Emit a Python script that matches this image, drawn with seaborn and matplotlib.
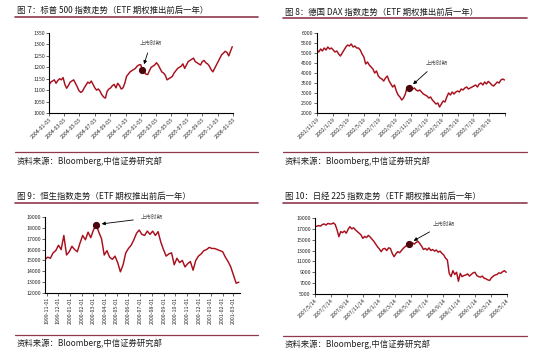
import pandas as pd
import seaborn as sns
import matplotlib.pyplot as plt
from matplotlib.lines import Line2D

sns.set_theme(style="ticks")
plt.rcParams['font.family'] = ['Noto Sans CJK SC', 'DejaVu Sans']

# ---- data (weekly closes) ----
sp_start = "2004-01-03"
sp_values = [1122, 1135, 1140, 1145, 1130, 1142, 1150, 1145, 1155, 1125, 1108, 1120, 1135,
             1140, 1145, 1130, 1115, 1098, 1090, 1095, 1110, 1122, 1135, 1130, 1140,
             1125, 1110, 1100, 1105, 1095, 1080, 1070, 1065, 1095, 1105, 1110, 1120, 1125, 1110,
             1130, 1120, 1105, 1110, 1130, 1160, 1170, 1180, 1185, 1190, 1195, 1205, 1210, 1212,
             1190, 1180, 1170, 1168, 1185, 1200, 1205, 1210, 1220, 1210, 1195, 1180,
             1175, 1165, 1145, 1150, 1155, 1160, 1175, 1185, 1195, 1200, 1205, 1215, 1195,
             1210, 1225, 1230, 1235, 1240, 1225, 1220, 1215, 1210, 1225, 1230, 1220, 1215,
             1205, 1190, 1180, 1195, 1210, 1225, 1240, 1255, 1262, 1270, 1265, 1250, 1270, 1290]
sp_mark = 53
sp_ticks = ["2004-01-03", "2004-03-03", "2004-05-03", "2004-07-03", "2004-09-03", "2004-11-03",
            "2005-01-03", "2005-03-03", "2005-05-03", "2005-07-03", "2005-09-03", "2005-11-03",
            "2006-01-03"]

dax_start = "2001-11-19"
dax_values = [5150, 5050, 5200, 5100, 5250, 5150, 5300, 5200, 5250,
              5150, 5050, 5100, 4950, 4850, 5000, 5150, 5300,
              5400, 5350, 5450, 5300, 5350, 5250, 5250, 5150,
              4950, 4800, 4450, 4550, 4400, 4300, 4200, 4000,
              4100, 3850, 3750, 3700, 3600, 3750, 3850, 3600, 3450,
              3300, 3400, 3100, 2900, 2800, 2650, 2750, 2950,
              3300, 3250, 3350, 3200, 3250, 3150, 3100, 3150,
              3050, 2950, 2900, 2850, 2750, 2800, 2650, 2550, 2450, 2500,
              2300, 2450, 2600, 2550, 2800, 3000, 2900, 3050,
              2950, 3050, 3100, 3050, 3200, 3150, 3250, 3300, 3200,
              3250, 3300, 3350, 3400, 3300, 3450, 3500, 3400, 3550, 3450,
              3580, 3500, 3400, 3350, 3450, 3550, 3500, 3650, 3700, 3650]
dax_mark = 51
dax_ticks = ["2001/11/19", "2002/1/19", "2002/3/19", "2002/5/19", "2002/7/19", "2002/9/19",
             "2002/11/19", "2003/1/19", "2003/3/19", "2003/5/19", "2003/7/19", "2003/9/19",
             "2003/11/19"]

hs_start = "1999-10-28"
hs_values = [15100, 15300, 15200, 15700, 15900, 16400,
             16000, 17300, 15500, 15800, 16300, 16000, 15800,
             16600, 17300, 16900, 17600, 17100, 17800, 18300,
             17600, 17000, 15500, 15900, 15300, 15100, 15400, 14800,
             13950, 14600, 15700, 16100, 16400, 16900, 17500,
             17800, 17400, 17300, 17700, 17400, 17700, 17300,
             17650, 16700, 16000, 15400, 15600, 15700, 14600,
             15200, 14800, 15000, 14400, 14700, 14900, 14100, 15000,
             15400, 15600, 15900, 16000, 16200, 16100, 16100, 16000,
             15900, 15800, 15300, 14900, 14400, 13650, 12900, 13000]
hs_mark = 19
hs_ticks = ["1999-11-01", "1999-12-01", "2000-01-01", "2000-02-01", "2000-03-01", "2000-04-01",
            "2000-05-01", "2000-06-01", "2000-07-01", "2000-08-01", "2000-09-01", "2000-10-01",
            "2000-11-01", "2000-12-01", "2001-01-01", "2001-02-01", "2001-03-01"]

nk_start = "2007-05-14"
nk_values = [17400, 17500, 17600, 17500, 17800, 17900, 17700, 18000, 17900, 17900,
             18100, 17800, 16800, 15560, 16500, 16300, 16600, 16200, 16900, 17400,
             17000, 17200, 16800, 16500, 16200, 15900, 15250, 15600, 15400, 15800,
             15500, 15100, 14700, 14200, 13700, 13300, 12800, 13300, 13400, 13000,
             13500, 13400, 12500, 11870, 12400, 12800, 12600, 13000, 13400, 13700,
             14000, 14300, 14100, 14400, 14200, 14500, 14700, 14300, 13800, 13200,
             13400, 13100, 13500, 13000, 13200, 12900, 13100, 12700, 12900, 12500,
             12200, 11600, 11260, 8800, 8200, 9300, 8600, 9000, 7350, 8800,
             8200, 8400, 8500, 8700, 8300, 8600, 8900, 9000, 8400, 8200,
             8100, 8300, 7900, 7800, 7600, 7500, 8000, 8300, 8500, 8600,
             8900, 8800, 9100, 9300, 9000]
nk_mark = 51
nk_ticks = ["2007/5/14", "2007/7/14", "2007/9/14", "2007/11/14", "2008/1/14", "2008/3/14",
            "2008/5/14", "2008/7/14", "2008/9/14", "2008/11/14", "2009/1/14", "2009/3/14",
            "2009/5/14"]

titles = ["图 7：标普 500 指数走势（ETF 期权推出前后一年）",
          "图 8：德国 DAX 指数走势（ETF 期权推出前后一年）",
          "图 9：恒生指数走势（ETF 期权推出前后一年）",
          "图 10：日经 225 指数走势（ETF 期权推出前后一年）"]
source = "资料来源：Bloomberg,中信证券研究部"
note = "上市时期"

LINE = "#a80f1c"
MARK = "#4a070e"
RULE = "#8e3a4c"
W, H = 550, 360

fig = plt.figure(figsize=(5.5, 3.6), dpi=100)
fig.patch.set_facecolor("white")


def fx(px):
    return px / W


def fy(py):
    return 1 - py / H


def hline(x0, x1, y, lw):
    fig.add_artist(Line2D([fx(x0), fx(x1)], [fy(y), fy(y)], transform=fig.transFigure,
                          color=RULE, lw=lw))


def panel(box, start, values, mark, ticks, tick_labels, rot, ylim, ystep, xmax, text_off):
    ax = fig.add_axes([fx(box[0]), fy(box[3]), fx(box[2] - box[0]), (box[3] - box[1]) / H])
    df = pd.DataFrame({"date": pd.date_range(start, periods=len(values), freq="7D"),
                       "value": values})
    sns.lineplot(data=df, x="date", y="value", ax=ax, color=LINE, linewidth=1.05)
    mx, my = df["date"][mark], df["value"][mark]
    ax.plot(mx, my, "o", color=MARK, ms=4.2, zorder=5)
    ax.annotate(note, xy=(mx, my), xytext=text_off, textcoords="offset points",
                fontsize=4, color="#555555", ha="center", va="center",
                arrowprops=dict(arrowstyle="-|>", color="black", lw=0.6,
                                mutation_scale=5, shrinkA=3, shrinkB=4))
    ax.set_xlim(pd.Timestamp(start), pd.Timestamp(xmax))
    ax.set_ylim(*ylim)
    ax.set_yticks(range(ylim[0], ylim[1] + 1, ystep))
    ax.set_xticks(pd.to_datetime(ticks))
    if rot == 90:
        ax.set_xticklabels(tick_labels, rotation=90, ha="center", va="top")
    else:
        ax.set_xticklabels(tick_labels, rotation=45, ha="right", va="top",
                           rotation_mode="anchor")
    ax.set_xlabel("")
    ax.set_ylabel("")
    ax.tick_params(labelsize=3.8, length=2, width=0.5, pad=1, direction="out")
    for s in ["top", "right"]:
        ax.spines[s].set_visible(False)
    for s in ["left", "bottom"]:
        ax.spines[s].set_linewidth(0.8)
        ax.spines[s].set_color("black")
    ax.set_facecolor("white")
    return ax


# top-left: S&P 500
panel((49, 33, 233, 113), sp_start, sp_values, sp_mark, sp_ticks, sp_ticks, 45,
      (1000, 1350), 50, "2006-01-03", (6, 19))
# top-right: DAX
panel((317, 33, 505, 113), dax_start, dax_values, dax_mark, dax_ticks,
      dax_ticks[:-1] + [""], 45, (2000, 6000), 500, "2003-11-19", (20, 18))
# bottom-left: Hang Seng
panel((45, 217, 240, 293), hs_start, hs_values, hs_mark, hs_ticks, hs_ticks, 90,
      (12000, 19000), 1000, "2001-03-18", (40, 5))
# bottom-right: Nikkei 225
panel((315, 218, 507, 294), nk_start, nk_values, nk_mark, nk_ticks, nk_ticks, 45,
      (5000, 19000), 2000, "2009-05-14", (25, 14))

# titles, rules and source notes
for (x, y, x0, x1, yl), t in zip([(17, 10, 15, 258, 17), (285, 12, 283, 527, 18),
                                  (17, 196, 15, 258, 203), (285, 196, 283, 527, 203)], titles):
    fig.text(fx(x), fy(y), t, fontsize=6, color="#1a1a1a", ha="left", va="center",
             fontweight="medium")
    hline(x0, x1, yl, 1.2)

for x, y, x0, x1, yl in [(17, 161, 15, 258, 152), (285, 161, 283, 527, 152),
                         (17, 343, 15, 258, 335), (285, 344, 283, 527, 336)]:
    fig.text(fx(x), fy(y), source, fontsize=6, color="#222222", ha="left", va="center")
    hline(x0, x1, yl, 0.9)

fig.savefig("out.png", dpi=100, facecolor="white")
